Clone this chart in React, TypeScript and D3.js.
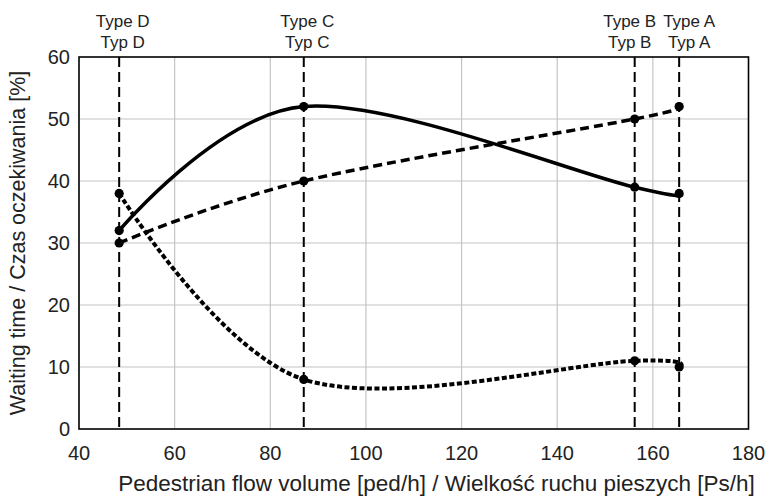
import React from "react";
import * as d3 from "d3";

// ---- data ----
const typeNamesEn = ["Type D", "Type C", "Type B", "Type A"];
const typeNamesPl = ["Typ D", "Typ C", "Typ B", "Typ A"];
const flowVolumes = [48.4, 87, 156.2, 165.5];
const solidSeries = [32, 52, 39, 38];
const dashedSeries = [30, 40, 50, 52];
const dottedSeries = [38, 8, 11, 10];
const xTicks = [40, 60, 80, 100, 120, 140, 160, 180];
const yTicks = [0, 10, 20, 30, 40, 50, 60];
const xTitle = "Pedestrian flow volume [ped/h] / Wielkość ruchu pieszych [Ps/h]";
const yTitle = "Waiting time / Czas oczekiwania [%]";

// ---- layout ----
const W = 766;
const H = 498;
const M = { left: 79, right: 748.5, top: 57, bottom: 429 };
const labelDx = [3.5, 3.5, -5, 10];
const FONT = "'Liberation Sans', Arial, Helvetica, sans-serif";

export default function App() {
  const x = d3.scaleLinear().domain([40, 180]).range([M.left, M.right]);
  const y = d3.scaleLinear().domain([0, 60]).range([M.bottom, M.top]);

  const line = d3
    .line<[number, number]>()
    .x((d) => x(d[0]))
    .y((d) => y(d[1]))
    .curve(d3.curveCatmullRom.alpha(0));

  const series = [
    { values: solidSeries, dash: undefined as string | undefined, width: 3.5 },
    { values: dashedSeries, dash: "9,5", width: 3.5 },
    { values: dottedSeries, dash: "5,2.5", width: 4 },
  ];

  return (
    <svg
      width={W}
      height={H}
      style={{ position: "absolute", left: 0, top: 0, background: "#fff" }}
      fontFamily={FONT}
    >
      <rect x={0} y={0} width={W} height={H} fill="#fff" />
      {/* grid */}
      {xTicks.slice(1, -1).map((t) => (
        <line key={"gx" + t} x1={x(t)} x2={x(t)} y1={M.top} y2={M.bottom} stroke="#c4c4c4" strokeWidth={1.2} />
      ))}
      {yTicks.slice(1, -1).map((t) => (
        <line key={"gy" + t} x1={M.left} x2={M.right} y1={y(t)} y2={y(t)} stroke="#c4c4c4" strokeWidth={1.2} />
      ))}
      {/* frame */}
      <rect x={M.left} y={M.top} width={M.right - M.left} height={M.bottom - M.top} fill="none" stroke="#000" strokeWidth={1.6} />

      {/* type lines */}
      {flowVolumes.map((v, i) => (
        <g key={"type" + i}>
          <line x1={x(v)} x2={x(v)} y1={M.top} y2={M.bottom} stroke="#000" strokeWidth={2} strokeDasharray="10,5" />
          <text x={x(v) + labelDx[i]} y={27} textAnchor="middle" fontSize={17} fill="#222">
            {typeNamesEn[i]}
          </text>
          <text x={x(v) + labelDx[i]} y={48} textAnchor="middle" fontSize={17} fill="#222">
            {typeNamesPl[i]}
          </text>
        </g>
      ))}

      {/* series */}
      {series.map((s, si) => {
        const pts: [number, number][] = flowVolumes.map((v, i) => [v, s.values[i]]);
        return (
          <g key={"s" + si}>
            <path d={line(pts) || ""} fill="none" stroke="#000" strokeWidth={s.width} strokeDasharray={s.dash} />
            {pts.map((p, i) => (
              <circle key={i} cx={x(p[0])} cy={y(p[1])} r={4.6} fill="#000" />
            ))}
          </g>
        );
      })}

      {/* y tick labels */}
      {yTicks.map((t) => (
        <text key={"yl" + t} x={70} y={y(t)} dy="0.35em" textAnchor="end" fontSize={20} fill="#222">
          {t}
        </text>
      ))}
      {/* x tick labels */}
      {xTicks.map((t) => (
        <text key={"xl" + t} x={x(t)} y={460} textAnchor="middle" fontSize={20} fill="#222">
          {t}
        </text>
      ))}
      {/* axis titles */}
      <text x={436.5} y={491} textAnchor="middle" fontSize={22.5} fill="#222">
        {xTitle}
      </text>
      <text
        transform={`translate(25, ${(M.top + M.bottom) / 2}) rotate(-90)`}
        textAnchor="middle"
        fontSize={21.5}
        fill="#222"
      >
        {yTitle}
      </text>
    </svg>
  );
}
